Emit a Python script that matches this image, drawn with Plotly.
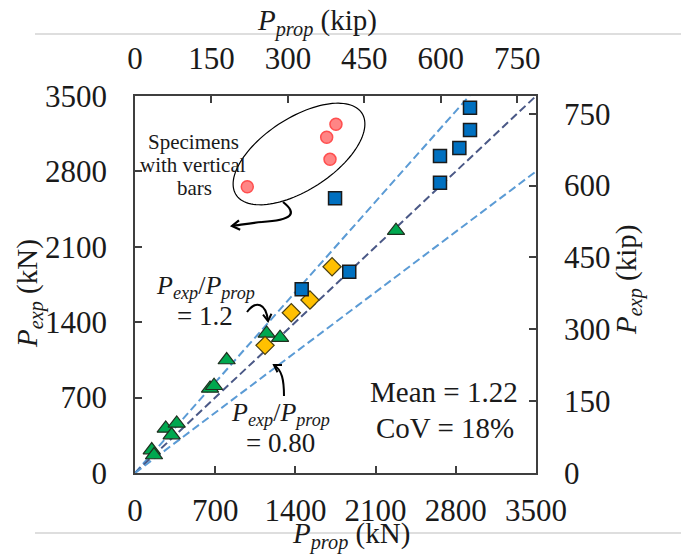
import numpy as np
import plotly.graph_objects as go

KN_PER_KIP = 4.448222

# Experimental vs. proposed capacities (kN)
vert_bar_x = [980, 1673, 1702, 1754]
vert_bar_y = [2658, 3117, 2912, 3237]

square_x = [2924, 2924, 2831, 2662, 2662, 1746, 1870, 1455]
square_y = [3391, 3184, 3017, 2943, 2695, 2550, 1869, 1705]

diamond_x = [1720, 1527, 1364, 1135]
diamond_y = [1915, 1606, 1488, 1185]

triangle_x = [2278, 1149, 1266, 800, 655, 690, 268, 364, 320, 146, 166]
triangle_y = [2250, 1296, 1256, 1049, 785, 810, 414, 460, 352, 213, 167]

# Reference ratios P_exp / P_prop drawn as dashed lines
ratio_lines = [1.2, 1.0, 0.8]
ratio_colors = ["#5B9BD5", "#4A5886", "#5B9BD5"]

kn_ticks = [0, 700, 1400, 2100, 2800, 3500]
kip_ticks = [0, 150, 300, 450, 600, 750]
KN_MAX = 3500

W, H = 681, 554
L, R, T, B = 135, 536, 96, 473
FONT = "Liberation Serif"
INK = "#1a1a1a"
AX = "#3f3f3f"


def paper(px, py):
    """Convert a pixel position on the page to paper coordinates."""
    return (px - L) / (R - L), (B - py) / (B - T)


fig = go.Figure()

xline = np.array([0, KN_MAX])
for k, c in zip(ratio_lines, ratio_colors):
    fig.add_trace(go.Scatter(x=xline, y=k * xline, mode="lines",
                             line=dict(color=c, width=2, dash="8px,4px"),
                             hoverinfo="skip", showlegend=False))

fig.add_trace(go.Scatter(x=vert_bar_x, y=vert_bar_y, mode="markers",
                         marker=dict(symbol="circle", size=12, color="#FF8585",
                                     line=dict(color="#FF4F4F", width=1.5)),
                         showlegend=False))
fig.add_trace(go.Scatter(x=triangle_x, y=triangle_y, mode="markers",
                         marker=dict(symbol="triangle-up", size=15, color="#00A84F",
                                     line=dict(color="#1f2f1f", width=1.2)),
                         showlegend=False))
fig.add_trace(go.Scatter(x=diamond_x, y=diamond_y, mode="markers",
                         marker=dict(symbol="diamond", size=14, color="#FFC000",
                                     line=dict(color="#4a3f10", width=1.2)),
                         showlegend=False))
fig.add_trace(go.Scatter(x=square_x, y=square_y, mode="markers",
                         marker=dict(symbol="square", size=13, color="#0070C0",
                                     line=dict(color="#1a1a1a", width=1.5)),
                         showlegend=False))

# invisible trace to activate the kip axes
fig.add_trace(go.Scatter(x=[0], y=[0], xaxis="x2", yaxis="y2", mode="markers",
                         marker=dict(opacity=0), hoverinfo="skip", showlegend=False))

tickfont = dict(family=FONT, size=31, color=INK)
common = dict(showgrid=False, zeroline=False, showline=True, linecolor=AX, linewidth=1.5,
              ticks="inside", ticklen=7, tickwidth=1.5, tickcolor=AX, tickfont=tickfont)

fig.update_layout(
    width=W, height=H,
    margin=dict(l=L, r=W - R, t=T, b=H - B),
    paper_bgcolor="white", plot_bgcolor="white",
    xaxis=dict(range=[0, KN_MAX], tickvals=kn_ticks, ticklabelstandoff=9, **common),
    yaxis=dict(range=[0, KN_MAX], tickvals=kn_ticks, ticklabelstandoff=20, **common),
    xaxis2=dict(range=[0, KN_MAX / KN_PER_KIP], tickvals=kip_ticks, overlaying="x",
                side="top", anchor="y", ticklabelstandoff=13, **common),
    yaxis2=dict(range=[0, KN_MAX / KN_PER_KIP], tickvals=kip_ticks, overlaying="y",
                side="right", anchor="x", ticklabelstandoff=20, **common),
)

shapes = []
# page separator rules
for py in (34, 533):
    x0, y0 = paper(35, py)
    x1, _ = paper(681, py)
    shapes.append(dict(type="line", xref="paper", yref="paper", x0=x0, x1=x1, y0=y0, y1=y0,
                       line=dict(color="#BDBDBD", width=1.2)))

# ellipse around the vertical-bar specimens
cx, cy, a, b, ang = 299, 154, 75, 36, np.deg2rad(33)
t = np.linspace(0, 2 * np.pi, 120)
ex = cx + a * np.cos(t) * np.cos(ang) - b * np.sin(t) * np.sin(ang)
ey = cy - a * np.cos(t) * np.sin(ang) - b * np.sin(t) * np.cos(ang)
pts = [paper(x, y) for x, y in zip(ex, ey)]
path = "M" + " L".join(f"{x:.5f},{y:.5f}" for x, y in pts) + " Z"
shapes.append(dict(type="path", xref="paper", yref="paper", path=path,
                   line=dict(color="black", width=1.2)))


def curve_arrow(p0, c1, c2, p1, width=2.2, head=9):
    """Cubic curve with an open arrowhead at the end point (pixel coords)."""
    pp = [paper(*p) for p in (p0, c1, c2, p1)]
    d = "M{:.5f},{:.5f} C{:.5f},{:.5f} {:.5f},{:.5f} {:.5f},{:.5f}".format(
        *pp[0], *pp[1], *pp[2], *pp[3])
    shapes.append(dict(type="path", xref="paper", yref="paper", path=d,
                       line=dict(color="black", width=width)))
    if head <= 0:
        return
    dx, dy = p1[0] - c2[0], p1[1] - c2[1]
    n = np.hypot(dx, dy)
    ux, uy = dx / n, dy / n
    arms = []
    for s in (1, -1):
        th = s * np.deg2rad(32)
        vx = -(ux * np.cos(th) - uy * np.sin(th))
        vy = -(ux * np.sin(th) + uy * np.cos(th))
        arms.append((p1[0] + head * vx, p1[1] + head * vy))
    hp = [paper(*arms[0]), paper(*p1), paper(*arms[1])]
    d2 = "M{:.5f},{:.5f} L{:.5f},{:.5f} L{:.5f},{:.5f}".format(*hp[0], *hp[1], *hp[2])
    shapes.append(dict(type="path", xref="paper", yref="paper", path=d2,
                       line=dict(color="black", width=width)))


curve_arrow((283, 202), (298, 214), (292, 220), (262, 222), width=2.2, head=0)
curve_arrow((262, 222), (250, 223), (240, 225), (232, 226), width=2.2, head=9)
curve_arrow((247, 312), (256, 300), (266, 303), (268, 321), width=2, head=8)
curve_arrow((284, 396), (284, 380), (282, 370), (274, 365), width=2, head=8)

fig.update_layout(shapes=shapes)


def label(text, px, py, size, angle=0):
    x, y = paper(px, py)
    fig.add_annotation(text=text, x=x, y=y, xref="paper", yref="paper",
                       xanchor="center", yanchor="middle", showarrow=False,
                       textangle=angle, font=dict(family=FONT, size=size, color=INK))


ratio_txt = "<i>P</i><sub><i>exp</i></sub>/<i>P</i><sub><i>prop</i></sub>"
label("<i>P</i><sub><i>prop</i></sub> (kip)", 317, 22, 29)
label("<i>P</i><sub><i>prop</i></sub> (kN)", 351, 535, 29)
label("<i>P</i><sub><i>exp</i></sub> (kN)", 29, 293, 29, angle=-90)
label("<i>P</i><sub><i>exp</i></sub> (kip)", 628, 280, 29, angle=-90)

label("Specimens", 193, 142, 21)
label("with vertical", 193, 165, 21)
label("bars", 194, 188, 21)

label(ratio_txt, 205, 287, 26)
label("= 1.2", 205, 316, 27)
label(ratio_txt, 280, 414, 26)
label("= 0.80", 280, 443, 27)

label("Mean = 1.22", 444, 392, 29)
label("CoV = 18%", 445, 428, 29)

fig.write_html("out.html")
